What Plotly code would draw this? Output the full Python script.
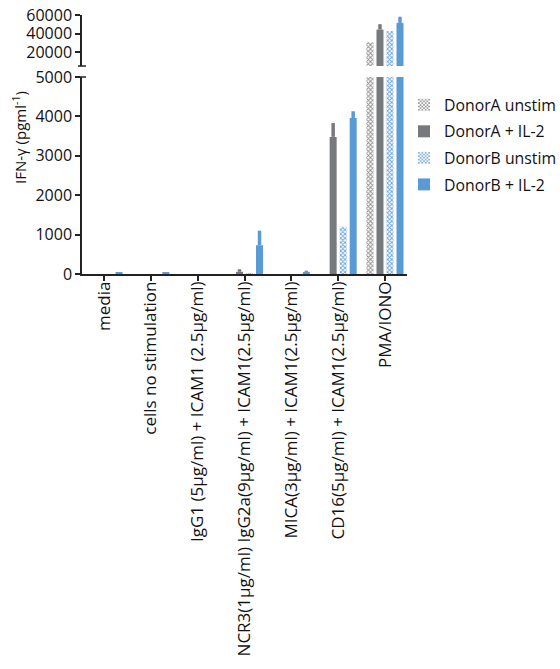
import plotly.graph_objects as go

categories = ["media", "cells no stimulation",
              "IgG1 (5µg/ml) + ICAM1 (2.5µg/ml)",
              "NCR3(1µg/ml) IgG2a(9µg/ml) + ICAM1(2.5µg/ml)",
              "MICA(3µg/ml) + ICAM1(2.5µg/ml)",
              "CD16(5µg/ml) + ICAM1(2.5µg/ml)",
              "PMA/IONO"]
a_unstim = [0, 0, 0, 0, 0, 0, 30600]
a_unstim_err = [0, 0, 0, 0, 0, 0, 0]
a_il2 = [0, 0, 0, 55, 0, 3480, 44300]
a_il2_err = [0, 0, 0, 65, 0, 350, 5800]
b_unstim = [0, 0, 0, 15, 0, 1200, 42700]
b_unstim_err = [0, 0, 0, 0, 0, 0, 0]
b_il2 = [30, 45, 0, 730, 45, 3960, 51500]
b_il2_err = [0, 0, 0, 370, 40, 170, 6600]

low_ticks = [0, 1000, 2000, 3000, 4000, 5000]
up_ticks = [20000, 40000, 60000]
BREAK = 5000

series = [
    ("DonorA unstim", a_unstim, a_unstim_err,
     dict(color="white", pattern=dict(shape="x", size=3, solidity=0.5, fgcolor="#8c8c8c", bgcolor="white", fillmode="replace")), "#8c8c8c"),
    ("DonorA + IL-2", a_il2, a_il2_err, dict(color="#77797c"), "#77797c"),
    ("DonorB unstim", b_unstim, b_unstim_err,
     dict(color="white", pattern=dict(shape="x", size=3, solidity=0.5, fgcolor="#6aa3db", bgcolor="white", fillmode="replace")), "#6aa3db"),
    ("DonorB + IL-2", b_il2, b_il2_err, dict(color="#5b9bd5"), "#5b9bd5"),
]

FONT = "Open Sans"
fig = go.Figure()
for i, (name, vals, errs, marker, ecol) in enumerate(series):
    for ax, show in (("y", True), ("y2", False)):
        if ax == "y":
            yv, e = vals, errs
        else:
            yv = [v if v > BREAK else None for v in vals]
            e = [er if v > BREAK else 0 for v, er in zip(vals, errs)]
        fig.add_trace(go.Bar(
            x=categories, y=yv, name=name, yaxis=ax, xaxis="x",
            marker=dict(line=dict(width=0), **marker),
            error_y=dict(type="data", array=e, arrayminus=[0] * len(e),
                         symmetric=False, color=ecol, thickness=3.5, width=0),
            showlegend=show, legendgroup=name, offsetgroup=str(i),
        ))

L, R, T, B = 82, 153, 15, 395
H = 669 - T - B
low_top = (274 - 77) / H
up_bot = (274 - 66) / H

axis_common = dict(showline=True, linecolor="#222", linewidth=1.5, ticks="outside",
                   ticklen=5, tickcolor="#222", tickwidth=1.5, showgrid=False, zeroline=False)

fig.update_layout(
    width=560, height=669,
    margin=dict(l=L, r=R, t=T, b=B, autoexpand=False),
    plot_bgcolor="white", paper_bgcolor="white",
    barmode="group", bargap=0.145, bargroupgap=0.3,
    font=dict(family=FONT, size=16, color="#111"),
    xaxis=dict(range=[-0.47, 6.47], tickangle=-90, anchor="y", automargin=False,
               ticklabelstandoff=-6,
               tickfont=dict(family=FONT, size=17, color="#111"), **axis_common),
    yaxis=dict(domain=[0, low_top], range=[0, BREAK], tickvals=low_ticks,
               ticktext=[str(v) for v in low_ticks], anchor="x", automargin=False,
               tickfont=dict(family=FONT, size=16, color="#111"), **axis_common),
    yaxis2=dict(domain=[up_bot, 1], range=[BREAK, 60000], tickvals=up_ticks,
                ticktext=[str(v) for v in up_ticks], anchor="x", automargin=False,
                tickfont=dict(family=FONT, size=16, color="#111"), **axis_common),
    legend=dict(xref="container", yref="container", x=404 / 560, xanchor="left",
                y=1 - 88 / 669, yanchor="top",
                font=dict(family=FONT, size=15.8, color="#111"),
                tracegroupgap=3, bgcolor="rgba(0,0,0,0)"),
    showlegend=True,
)

# break marks on the y axis
for yref, yv in (("y2 domain", 0), ("y domain", 1)):
    fig.add_shape(type="line", xref="paper", yref=yref, x0=-4 / 325, x1=4 / 325, y0=yv, y1=yv,
                  line=dict(color="#222", width=1.5))

fig.add_annotation(text="IFN-γ (pgml<sup>-1</sup>)", xref="paper", yref="paper",
                   x=(19 - L) / 325, y=(274 - 138) / H, textangle=-90, showarrow=False,
                   xanchor="center", yanchor="middle",
                   font=dict(family=FONT, size=15, color="#111"))

fig.write_html("out.html")
